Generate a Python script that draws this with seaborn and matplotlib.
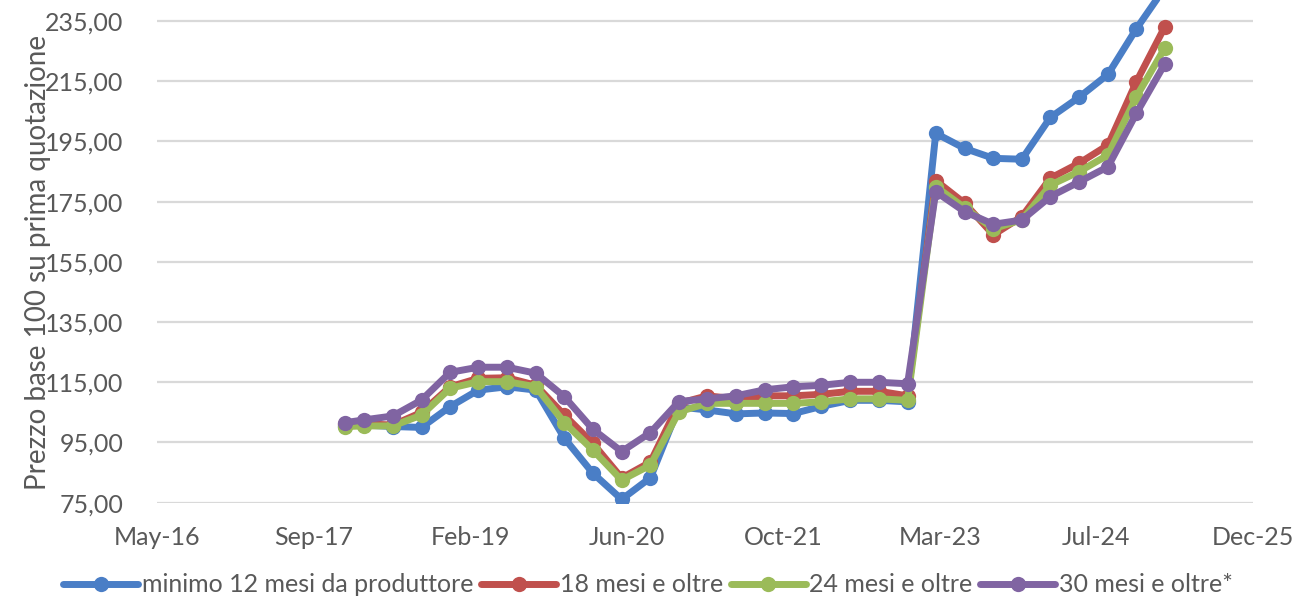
import pandas as pd
import matplotlib
matplotlib.use("Agg")
import matplotlib.pyplot as plt
import matplotlib.dates as mdates
from matplotlib.lines import Line2D
from matplotlib.ticker import FuncFormatter
import seaborn as sns

# Quotazioni trimestrali (fine mese)
mesi = [
    "2017-12", "2018-02", "2018-05", "2018-08", "2018-11",
    "2019-02", "2019-05", "2019-08", "2019-11", "2020-02",
    "2020-05", "2020-08", "2020-11", "2021-02", "2021-05",
    "2021-08", "2021-11", "2022-02", "2022-05", "2022-08",
    "2022-11", "2023-02", "2023-05", "2023-08", "2023-11",
    "2024-02", "2024-05", "2024-08", "2024-11", "2025-02",
]
minimo_12 = [100.5, 100.8, 100.3, 100.0, 106.9, 112.4, 113.5, 112.4, 96.4, 84.8,
             76.1, 83.3, 106.8, 105.8, 104.5, 104.8, 104.6, 107.0, 109.0, 109.0,
             108.5, 197.7, 192.7, 189.4, 189.1, 203.0, 209.7, 217.3, 232.5, 246.0]
mesi_18 = [101.0, 101.2, 100.8, 105.0, 113.5, 116.3, 116.5, 114.0, 104.1, 94.7,
           83.2, 88.5, 108.0, 110.5, 109.5, 110.5, 110.5, 111.0, 112.0, 112.0,
           110.5, 182.0, 174.5, 164.0, 170.0, 182.8, 187.8, 193.8, 214.9, 233.0]
mesi_24 = [100.3, 100.5, 100.5, 104.1, 113.0, 115.2, 115.2, 113.5, 101.6, 92.5,
           82.5, 87.5, 105.2, 108.0, 108.0, 108.0, 108.0, 108.5, 109.5, 109.5,
           109.0, 180.0, 173.0, 166.0, 169.0, 180.5, 185.0, 190.5, 209.9, 226.0]
mesi_30 = [101.6, 102.5, 103.8, 109.1, 118.3, 120.0, 120.0, 118.0, 110.2, 99.4,
           92.0, 98.3, 108.6, 109.5, 110.5, 112.5, 113.5, 114.0, 115.0, 115.0,
           114.5, 178.3, 171.7, 167.5, 168.9, 176.7, 181.6, 186.6, 204.4, 220.7]

serie = ["minimo 12 mesi da produttore", "18 mesi e oltre",
         "24 mesi e oltre", "30 mesi e oltre*"]
colori = ["#4A7EC6", "#C0504D", "#9BBB59", "#8064A2"]
y_ticks = [75, 95, 115, 135, 155, 175, 195, 215, 235]

date = pd.to_datetime(mesi) + pd.offsets.MonthEnd(0)
df = pd.concat([
    pd.DataFrame({"data": date, "valore": valori, "serie": nome})
    for nome, valori in zip(serie, [minimo_12, mesi_18, mesi_24, mesi_30])
], ignore_index=True)

sns.set_theme(style="white")
plt.rcParams["font.family"] = ["Lato", "DejaVu Sans"]

testo = "#595959"
lw, ms = 5.0, 11
fig = plt.figure(figsize=(12.96, 6.06), dpi=100)
ax = fig.add_axes([0.1211, 0.1705, 0.8457, 0.8295])

sns.lineplot(data=df, x="data", y="valore", hue="serie", hue_order=serie,
             palette=colori, marker="o", markersize=ms, markeredgewidth=0,
             linewidth=lw, legend=False, ax=ax)

# asse delle date: passo di 500 giorni
inizio = pd.Timestamp("2016-05-08")
x_ticks = [inizio + pd.Timedelta(days=500 * k) for k in range(8)]
ax.set_xlim(x_ticks[0], x_ticks[-1])
ax.set_xticks(x_ticks)
ax.xaxis.set_major_formatter(mdates.DateFormatter("%b-%y"))

ax.set_ylim(75, 242)
ax.set_yticks(y_ticks)
ax.yaxis.set_major_formatter(FuncFormatter(lambda v, p: f"{v:.2f}".replace(".", ",")))

ax.grid(axis="y", color="#D9D9D9", linewidth=1.6)
ax.grid(axis="x", visible=False)
for s in ax.spines.values():
    s.set_visible(False)
ax.tick_params(axis="y", length=0, pad=24, labelsize=18, labelcolor=testo)
ax.tick_params(axis="x", length=0, pad=17, labelsize=18, labelcolor=testo)

ax.set_xlabel("")
ax.set_ylabel("Prezzo base 100 su prima quotazione", fontsize=20, color=testo)
ax.yaxis.set_label_coords(-0.097, 0.477)

maniglie = [Line2D([0], [0], color=c, linewidth=lw, marker="o",
                   markersize=ms, markeredgewidth=0) for c in colori]
fig.legend(maniglie, serie, loc="center", bbox_to_anchor=(0.5, 0.035),
           ncol=4, frameon=False, fontsize=18, handlelength=3.0,
           handletextpad=0.15, columnspacing=0.3, labelcolor=testo)

fig.savefig("out.png", dpi=100)
